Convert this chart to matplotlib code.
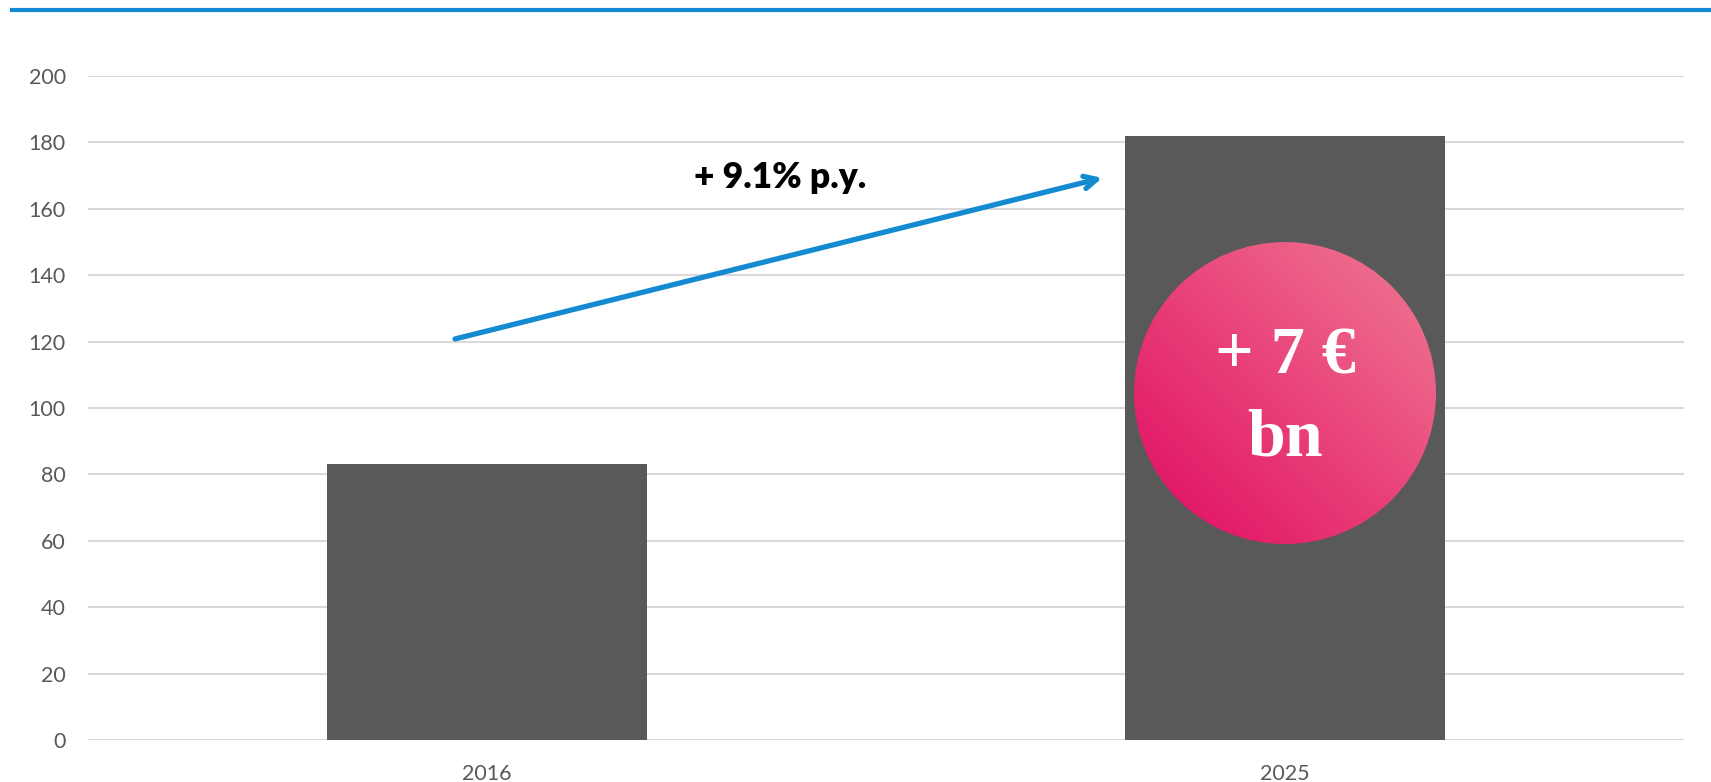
import numpy as np
import matplotlib.pyplot as plt
from matplotlib.patches import Ellipse
from matplotlib.colors import LinearSegmentedColormap
from matplotlib.lines import Line2D

# Data
years = ['2016', '2025']
values = [83, 182]
yticks = [0, 20, 40, 60, 80, 100, 120, 140, 160, 180, 200]
growth_label = '+ 9.1% p.y.'
bubble_lines = ['+ 7 €', 'bn']

BAR_COLOR = '#595959'
GRID_COLOR = '#D9D9D9'
BLUE = '#148AD2'
TICK_COLOR = '#595959'

fig = plt.figure(figsize=(17.11, 7.82), dpi=100)
ax = fig.add_axes([88 / 1711, 1 - 740 / 782, (1684 - 88) / 1711, (740 - 76) / 782])

x = np.arange(len(years))
ax.bar(x, values, width=0.4, color=BAR_COLOR, zorder=2)

ax.set_xlim(-0.5, 1.5)
ax.set_ylim(0, 200)
ax.set_yticks(yticks)
ax.set_xticks(x)
ax.set_xticklabels(years)
ax.yaxis.grid(True, color=GRID_COLOR, linewidth=1.5, zorder=0)
ax.set_axisbelow(True)
for s in ax.spines.values():
    s.set_visible(False)
ax.tick_params(axis='both', length=0, colors=TICK_COLOR, labelsize=15.5)
ax.tick_params(axis='y', pad=16)
ax.tick_params(axis='x', pad=17)
for lab in ax.get_xticklabels() + ax.get_yticklabels():
    lab.set_fontfamily('Lato')

# growth arrow
ax.annotate('', xy=(0.771, 169.3), xytext=(-0.04, 120.8),
            arrowprops=dict(arrowstyle='->,head_length=0.9,head_width=0.45',
                            color=BLUE, lw=3.8, shrinkA=0, shrinkB=0),
            zorder=4)
ax.text(0.367, 166.3, growth_label, ha='center', va='baseline',
        fontsize=25.5, fontweight='heavy', family='Lato', color='black', zorder=5)

# gradient bubble on the 2025 bar
cx, cy = 1.0, 104.5
w, h = 302 / 798, 302 / 3.32
cmap = LinearSegmentedColormap.from_list('pink', ['#E00A60', '#E9427A', '#F07B93'])
u, v = np.meshgrid(np.linspace(0, 1, 300), np.linspace(0, 1, 300))
grad = (u + v) / 2
im = ax.imshow(grad, cmap=cmap, origin='lower', aspect='auto',
               extent=[cx - w / 2, cx + w / 2, cy - h / 2, cy + h / 2], zorder=3)
circ = Ellipse((cx, cy), w, h, transform=ax.transData, facecolor='none', edgecolor='none')
ax.add_patch(circ)
im.set_clip_path(circ)
ax.set_xlim(-0.5, 1.5)
ax.set_ylim(0, 200)

ax.text(cx, 110.5, bubble_lines[0], ha='center', va='baseline', color='white',
        fontsize=49, fontweight='bold', family='Liberation Serif', zorder=5)
ax.text(cx, 85.8, bubble_lines[1], ha='center', va='baseline', color='white',
        fontsize=49, fontweight='bold', family='Liberation Serif', zorder=5)

# blue rule across the top
fig.add_artist(Line2D([12 / 1711, 1], [1 - 9.5 / 782] * 2, color=BLUE, lw=3, transform=fig.transFigure))

fig.savefig('out.png', dpi=100)
